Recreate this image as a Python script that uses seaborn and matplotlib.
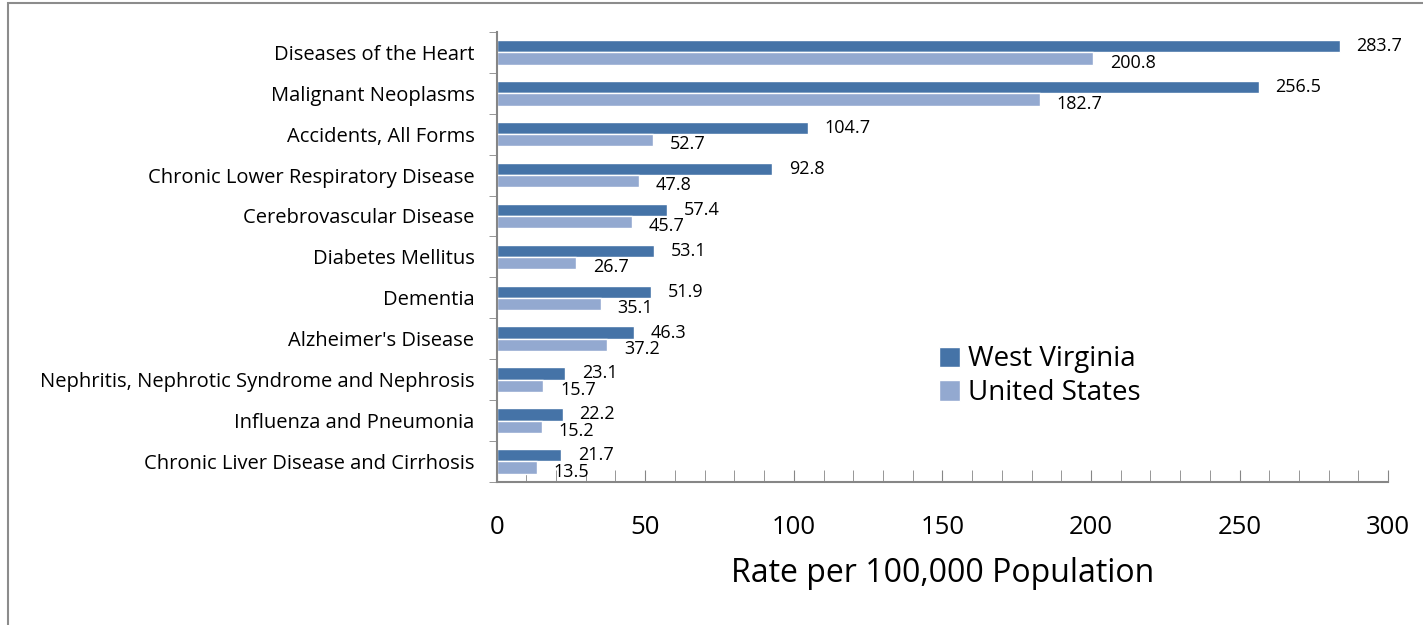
import pandas as pd
import seaborn as sns
import matplotlib.pyplot as plt
from matplotlib.patches import Rectangle
from matplotlib.ticker import MultipleLocator

causes = ["Diseases of the Heart", "Malignant Neoplasms", "Accidents, All Forms",
          "Chronic Lower Respiratory Disease", "Cerebrovascular Disease",
          "Diabetes Mellitus", "Dementia", "Alzheimer's Disease",
          "Nephritis, Nephrotic Syndrome and Nephrosis",
          "Influenza and Pneumonia", "Chronic Liver Disease and Cirrhosis"]
wv = [283.7, 256.5, 104.7, 92.8, 57.4, 53.1, 51.9, 46.3, 23.1, 22.2, 21.7]
us = [200.8, 182.7, 52.7, 47.8, 45.7, 26.7, 35.1, 37.2, 15.7, 15.2, 13.5]
series = ["West Virginia", "United States"]
colors = ["#4573A7", "#93A9D0"]

df = pd.concat([
    pd.DataFrame({"cause": causes, "rate": wv, "area": series[0]}),
    pd.DataFrame({"cause": causes, "rate": us, "area": series[1]}),
])

sns.set_style("white", {"text.color": "black", "xtick.color": "black",
                        "ytick.color": "black", "axes.labelcolor": "black"})
plt.rcParams["font.family"] = ["Open Sans", "DejaVu Sans"]

fig = plt.figure(figsize=(14.23, 6.25), dpi=100)
ax = fig.add_axes([0.349, 0.229, 0.6265, 0.72])

sns.barplot(data=df, y="cause", x="rate", hue="area", order=causes,
            hue_order=series, palette=colors, saturation=1, width=0.6,
            orient="h", ax=ax, errorbar=None)

# West Virginia labels centred, US labels nudged down a little
for cont, dy in zip(ax.containers, [0, -3]):
    for t in ax.bar_label(cont, fmt="%.1f", padding=12, fontsize=13, color="black"):
        t.xyann = (12, dy)

ax.set_xlim(0, 300)
ax.set_ylim(10.5, -0.5)
ax.xaxis.set_major_locator(MultipleLocator(50))
ax.xaxis.set_minor_locator(MultipleLocator(10))
ax.yaxis.set_minor_locator(MultipleLocator(1, offset=0.5))
ax.tick_params(axis="x", which="both", direction="in", length=9, color="#868686",
               labelcolor="black", labelsize=18.5, pad=24, bottom=True)
ax.tick_params(axis="y", which="major", length=0, labelsize=14.5, pad=16,
               labelcolor="black")
ax.tick_params(axis="y", which="minor", direction="out", length=6, color="#868686", left=True)
for s in ["top", "right"]:
    ax.spines[s].set_visible(False)
for s in ["left", "bottom"]:
    ax.spines[s].set_color("#868686")
    ax.spines[s].set_linewidth(1.5)
ax.set_ylabel("")
ax.set_xlabel("Rate per 100,000 Population", fontsize=23, labelpad=12, color="black")

ax.legend(loc="upper left", bbox_to_anchor=(0.652, 0.465),
          bbox_transform=fig.transFigure, frameon=False, fontsize=20,
          handlelength=0.75, handleheight=0.75, handletextpad=0.3, labelspacing=0.2,
          borderaxespad=0, labelcolor="black")

fig.patches.append(Rectangle((0.0056, -0.1), 1.2, 1.095, transform=fig.transFigure,
                             fill=False, edgecolor="#8c8c8c", linewidth=1.5))

fig.savefig("out.png", dpi=100)
